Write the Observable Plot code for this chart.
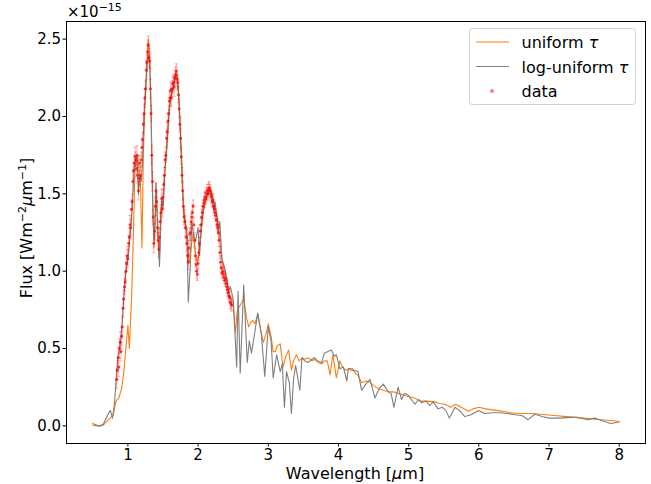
<!DOCTYPE html>
<html><head><meta charset="utf-8">
<script src="https://cdn.jsdelivr.net/npm/d3@7"></script>
<script src="https://cdn.jsdelivr.net/npm/@observablehq/plot@0.6"></script>
<style>body{margin:0;background:#fff;} #chart{width:651px;height:484px;}</style>
</head><body><div id="chart"></div>
<script>
// Model: uniform tau (orange)
const uniformW = [0.50,0.55,0.60,0.65,0.70,0.75,0.79,0.83,0.87,0.91,0.94,0.96,0.98,1.00,1.02,1.05,1.07,1.09,1.10,1.12,1.14,1.16,1.18,1.20,1.22,1.24,1.26,1.28,1.29,1.31,1.33,1.35,1.37,1.39,1.41,1.43,1.45,1.47,1.50,1.52,1.54,1.57,1.60,1.63,1.66,1.68,1.70,1.72,1.74,1.77,1.79,1.82,1.85,1.87,1.90,1.93,1.96,1.99,2.02,2.05,2.08,2.12,2.15,2.18,2.20,2.23,2.26,2.29,2.32,2.35,2.38,2.41,2.44,2.47,2.50,2.53,2.56,2.60,2.65,2.69,2.72,2.75,2.78,2.81,2.85,2.89,2.93,2.97,3.00,3.04,3.07,3.10,3.13,3.17,3.21,3.25,3.29,3.33,3.36,3.40,3.44,3.48,3.52,3.57,3.62,3.66,3.71,3.76,3.80,3.84,3.88,3.92,3.97,4.02,4.06,4.10,4.15,4.20,4.24,4.27,4.33,4.40,4.45,4.50,4.57,4.64,4.71,4.78,4.85,4.92,4.99,5.08,5.18,5.27,5.37,5.44,5.52,5.60,5.67,5.75,5.85,5.92,6.00,6.10,6.25,6.46,6.60,6.75,7.00,7.25,7.50,7.75,8.00];
const uniformF = [0.005,0.00,0.00,0.005,0.03,0.05,0.07,0.16,0.18,0.24,0.34,0.44,0.55,0.65,0.50,0.80,1.10,1.45,1.67,1.70,1.75,1.65,1.55,1.15,1.75,2.05,2.20,2.40,2.50,2.42,2.05,1.55,1.15,1.35,1.50,1.25,1.08,1.40,1.45,1.60,1.72,1.92,2.10,2.15,2.22,2.28,2.27,2.20,2.00,1.70,1.45,1.30,1.20,1.05,1.15,1.25,1.12,1.05,1.15,1.28,1.40,1.47,1.52,1.53,1.50,1.43,1.38,1.30,1.15,1.05,1.00,0.95,0.85,0.82,0.80,0.60,0.75,0.78,0.82,0.70,0.64,0.67,0.68,0.66,0.72,0.62,0.54,0.60,0.66,0.58,0.48,0.48,0.52,0.53,0.38,0.45,0.49,0.36,0.42,0.46,0.42,0.44,0.43,0.44,0.42,0.43,0.41,0.40,0.42,0.42,0.33,0.46,0.31,0.42,0.38,0.36,0.37,0.37,0.34,0.33,0.28,0.29,0.28,0.26,0.24,0.23,0.22,0.22,0.21,0.20,0.19,0.18,0.16,0.16,0.155,0.145,0.14,0.12,0.14,0.12,0.095,0.11,0.12,0.11,0.10,0.085,0.08,0.08,0.07,0.06,0.05,0.04,0.03];

// Model: log-uniform tau (gray)
const logW = [0.50,0.55,0.60,0.65,0.70,0.75,0.78,0.81,0.84,0.86,0.88,0.90,0.92,0.94,0.97,1.00,1.03,1.06,1.09,1.11,1.13,1.15,1.17,1.19,1.21,1.23,1.25,1.27,1.29,1.31,1.33,1.34,1.36,1.38,1.40,1.42,1.45,1.48,1.50,1.53,1.56,1.59,1.62,1.65,1.68,1.70,1.72,1.74,1.77,1.79,1.81,1.84,1.86,1.89,1.91,1.94,1.96,2.00,2.02,2.05,2.08,2.12,2.15,2.17,2.20,2.22,2.24,2.27,2.29,2.31,2.34,2.38,2.41,2.43,2.46,2.50,2.55,2.57,2.60,2.65,2.70,2.73,2.76,2.80,2.85,2.90,2.95,3.00,3.04,3.07,3.12,3.17,3.20,3.23,3.26,3.30,3.33,3.36,3.39,3.45,3.48,3.52,3.57,3.62,3.66,3.70,3.76,3.80,3.85,3.90,3.94,3.97,4.02,4.07,4.12,4.14,4.18,4.23,4.28,4.33,4.39,4.45,4.52,4.58,4.64,4.71,4.75,4.79,4.85,4.90,4.94,4.99,5.04,5.09,5.14,5.18,5.25,5.30,5.35,5.42,5.48,5.53,5.58,5.66,5.72,5.80,5.88,6.00,6.08,6.20,6.30,6.40,6.55,6.62,6.70,6.80,6.90,7.00,7.15,7.30,7.40,7.55,7.65,7.75,7.88,8.00];
const logF = [0.015,0.005,0.00,0.01,0.06,0.10,0.05,0.15,0.36,0.45,0.50,0.56,0.68,0.82,1.00,1.08,1.22,1.39,1.67,1.72,1.75,1.50,1.62,1.58,1.72,2.00,2.15,2.33,2.40,2.35,2.05,1.70,1.30,1.20,1.57,1.30,1.03,1.47,1.40,1.67,1.82,2.05,2.15,2.20,2.27,2.25,2.15,1.97,1.62,1.39,1.32,1.28,0.80,1.04,1.32,1.22,1.19,1.28,1.10,1.30,1.43,1.48,1.51,1.52,1.48,1.40,1.45,1.35,1.26,1.32,1.08,1.02,0.95,0.87,0.90,0.82,0.38,0.87,0.34,0.91,0.41,0.55,0.47,0.58,0.73,0.60,0.32,0.64,0.55,0.31,0.46,0.35,0.40,0.12,0.35,0.28,0.08,0.30,0.39,0.23,0.44,0.42,0.41,0.43,0.44,0.42,0.41,0.47,0.48,0.49,0.45,0.46,0.37,0.38,0.29,0.37,0.36,0.36,0.35,0.23,0.27,0.30,0.18,0.24,0.27,0.22,0.21,0.12,0.25,0.17,0.21,0.20,0.17,0.14,0.17,0.15,0.16,0.13,0.155,0.11,0.12,0.10,0.05,0.12,0.10,0.06,0.07,0.10,0.08,0.085,0.085,0.08,0.07,0.065,0.04,0.075,0.06,0.05,0.05,0.055,0.055,0.04,0.05,0.035,0.015,0.025];

// Observed data with errors
const dataW = [
0.84,0.85,0.86,0.87,0.88,0.89,0.90,0.91,0.92,0.93,
0.94,0.95,0.96,0.97,0.98,0.99,1.00,1.01,1.02,1.03,
1.04,1.05,1.06,1.07,1.08,1.09,1.10,1.11,1.12,1.13,
1.14,1.15,1.16,1.17,1.18,1.19,1.20,1.21,1.22,1.23,
1.24,1.25,1.26,1.27,1.28,1.29,1.30,1.31,1.32,1.33,
1.34,1.35,1.36,1.37,1.38,1.39,1.40,1.41,1.42,1.43,
1.44,1.45,1.46,1.47,1.48,1.49,1.50,1.51,1.52,1.53,
1.54,1.55,1.56,1.57,1.58,1.59,1.60,1.61,1.62,1.63,
1.64,1.65,1.66,1.67,1.68,1.69,1.70,1.71,1.72,1.73,
1.74,1.75,1.76,1.77,1.78,1.79,1.80,1.81,1.82,1.83,
1.84,1.85,1.86,1.87,1.88,1.89,1.90,1.91,1.92,1.93,
1.94,1.95,1.96,1.97,1.98,1.99,2.00,2.01,2.02,2.03,
2.04,2.05,2.06,2.07,2.08,2.09,2.10,2.11,2.12,2.13,
2.14,2.15,2.16,2.17,2.18,2.19,2.20,2.21,2.22,2.23,
2.24,2.25,2.26,2.27,2.28,2.29,2.30,2.31,2.32,2.33,
2.34,2.35,2.36,2.37,2.38,2.39,2.40,2.41,2.42,2.43,
2.44,2.45,2.46,2.47,2.48];
const dataF = [
0.30,0.36,0.44,0.38,0.50,0.54,0.48,0.58,0.64,0.76,
0.82,0.90,0.93,1.00,1.05,1.10,1.08,1.18,1.22,1.30,
1.28,1.40,1.45,1.58,1.65,1.70,1.74,1.72,1.66,1.75,
1.62,1.52,1.60,1.70,1.62,1.72,1.80,1.85,1.95,2.02,
2.12,2.18,2.30,2.35,2.42,2.46,2.38,2.36,2.18,2.02,
1.75,1.58,1.35,1.18,1.26,1.42,1.52,1.45,1.28,1.20,
1.14,1.22,1.32,1.38,1.47,1.40,1.48,1.56,1.62,1.72,
1.75,1.86,1.90,1.97,2.02,2.10,2.12,2.17,2.12,2.18,
2.21,2.22,2.19,2.25,2.27,2.29,2.24,2.22,2.14,2.05,
1.95,1.86,1.74,1.62,1.52,1.42,1.35,1.32,1.28,1.22,
1.18,1.10,1.06,1.15,1.24,1.25,1.32,1.35,1.38,1.42,
1.30,1.20,1.10,1.04,1.00,0.98,1.05,1.12,1.18,1.26,
1.30,1.35,1.38,1.42,1.44,1.46,1.48,1.47,1.50,1.52,
1.50,1.53,1.54,1.52,1.50,1.48,1.45,1.46,1.42,1.40,
1.38,1.36,1.33,1.30,1.28,1.25,1.20,1.12,1.06,1.02,
0.99,1.00,0.98,0.96,0.94,0.95,0.92,0.90,0.88,0.86,
0.84,0.83,0.80,0.79,0.78];
const dataE = [
0.06,0.06,0.07,0.06,0.06,0.07,0.06,0.06,0.07,0.06,
0.06,0.05,0.06,0.06,0.05,0.06,0.06,0.05,0.06,0.06,
0.05,0.06,0.05,0.06,0.05,0.05,0.06,0.05,0.05,0.06,
0.05,0.06,0.05,0.05,0.06,0.05,0.06,0.05,0.06,0.06,
0.06,0.05,0.06,0.06,0.05,0.06,0.06,0.05,0.06,0.05,
0.06,0.06,0.05,0.06,0.05,0.06,0.05,0.06,0.05,0.05,
0.05,0.06,0.05,0.05,0.06,0.05,0.05,0.06,0.05,0.05,
0.05,0.05,0.06,0.05,0.05,0.06,0.05,0.05,0.06,0.05,
0.05,0.05,0.06,0.05,0.05,0.05,0.06,0.05,0.05,0.06,
0.05,0.06,0.05,0.05,0.06,0.05,0.05,0.04,0.05,0.05,
0.05,0.04,0.05,0.05,0.04,0.05,0.05,0.04,0.05,0.04,
0.05,0.04,0.05,0.04,0.05,0.04,0.04,0.05,0.04,0.04,
0.04,0.05,0.04,0.04,0.04,0.05,0.04,0.04,0.04,0.04,
0.04,0.04,0.04,0.04,0.04,0.04,0.04,0.04,0.04,0.04,
0.04,0.04,0.04,0.04,0.04,0.05,0.04,0.04,0.04,0.04,
0.04,0.04,0.04,0.04,0.04,0.04,0.04,0.04,0.04,0.04,
0.04,0.04,0.04,0.04,0.04];

const xTicks = [1,2,3,4,5,6,7,8];
const yTicks = [0.0,0.5,1.0,1.5,2.0,2.5];
const seriesNames = ["uniform", "log-uniform", "data"];

const uniform = uniformW.map((w, i) => ({w, f: uniformF[i]}));
const logu = logW.map((w, i) => ({w, f: logF[i]}));
const data = dataW.map((w, i) => ({w, f: dataF[i], e: dataE[i]}));

const ORANGE = "#ff7f0e", GRAY = "#7f7f7f";
const cap = {draw(ctx, size) { const r = Math.sqrt(size) / 2; ctx.moveTo(-r, 0); ctx.lineTo(r, 0); }};

const plot = Plot.plot({
  width: 651, height: 484,
  marginLeft: 66, marginRight: 6, marginTop: 21, marginBottom: 41,
  style: {fontFamily: "DejaVu Sans", fontSize: "15px", background: "white", color: "black"},
  x: {domain: [0.125, 8.375], ticks: xTicks, tickFormat: d => String(d), label: null, tickSize: 3.5, tickPadding: 2.5},
  y: {domain: [-0.114, 2.614], ticks: yTicks, tickFormat: d3.format(".1f"), label: null, tickSize: 3.5, tickPadding: 2},
  marks: [
    Plot.line(uniform, {x: "w", y: "f", stroke: ORANGE, strokeWidth: 1.1}),
    Plot.line(logu, {x: "w", y: "f", stroke: GRAY, strokeWidth: 1.1}),
    Plot.ruleX(data, {x: "w", y1: d => d.f - d.e, y2: d => d.f + d.e, stroke: "red", strokeOpacity: 0.3, strokeWidth: 1}),
    Plot.dot(data, {x: "w", y: d => d.f - d.e, symbol: cap, r: 1.7, stroke: "red", strokeOpacity: 0.3, fill: "none", strokeWidth: 1}),
    Plot.dot(data, {x: "w", y: d => d.f + d.e, symbol: cap, r: 1.7, stroke: "red", strokeOpacity: 0.3, fill: "none", strokeWidth: 1}),
    Plot.dot(data, {x: "w", y: "f", r: 1.5, fill: "red", fillOpacity: 0.75, stroke: "none"}),
    Plot.frame({stroke: "black", strokeWidth: 1})
  ]
});
document.getElementById("chart").appendChild(plot);

const svg = d3.select(plot);
const F = "DejaVu Sans";
// offset text
const off = svg.append("text").attr("x", 67).attr("y", 17).attr("text-anchor", "start").attr("font-family", F).attr("font-size", 15).attr("fill", "black");
off.append("tspan").text("×10");
off.append("tspan").attr("dy", -6).attr("font-size", 11).text("−15");

// x label
const xl = svg.append("text").attr("x", 355).attr("y", 479).attr("text-anchor", "middle").attr("font-family", F).attr("font-size", 16).attr("fill", "black");
xl.append("tspan").text("Wavelength [");
xl.append("tspan").attr("font-style", "italic").text("μ");
xl.append("tspan").text("m]");

// y label
const yl = svg.append("text").attr("transform", "translate(32,228) rotate(-90)").attr("text-anchor", "middle").attr("font-family", F).attr("font-size", 16).attr("fill", "black");
yl.append("tspan").text("Flux [Wm");
yl.append("tspan").attr("dy", -6).attr("font-size", 11).text("−2");
yl.append("tspan").attr("dy", 6).attr("font-style", "italic").text("μ");
yl.append("tspan").text("m");
yl.append("tspan").attr("dy", -6).attr("font-size", 11).text("−1");
yl.append("tspan").attr("dy", 6).text("]");

// legend
const lg = svg.append("g").attr("font-family", F).attr("font-size", 16).attr("text-anchor", "start");
lg.append("rect").attr("x", 469.5).attr("y", 28.5).attr("width", 166).attr("height", 76).attr("rx", 3)
  .attr("fill", "white").attr("fill-opacity", 0.8).attr("stroke", "#d0d0d0");
const rows = [{y: 42, c: ORANGE, t: seriesNames[0]}, {y: 66.5, c: GRAY, t: seriesNames[1]}];
rows.forEach(r => {
  lg.append("line").attr("x1", 476).attr("x2", 509).attr("y1", r.y).attr("y2", r.y).attr("stroke", r.c).attr("stroke-width", 1.1);
  const t = lg.append("text").attr("x", 521.5).attr("y", r.y + 6).attr("fill", "black");
  t.append("tspan").text(r.t + " ");
  t.append("tspan").attr("font-style", "italic").text("τ");
});
lg.append("circle").attr("cx", 492).attr("cy", 91).attr("r", 2).attr("fill", "red").attr("fill-opacity", 0.5);
lg.append("text").attr("x", 521.5).attr("y", 96.5).attr("fill", "black").text(seriesNames[2]);
</script>
</body></html>
